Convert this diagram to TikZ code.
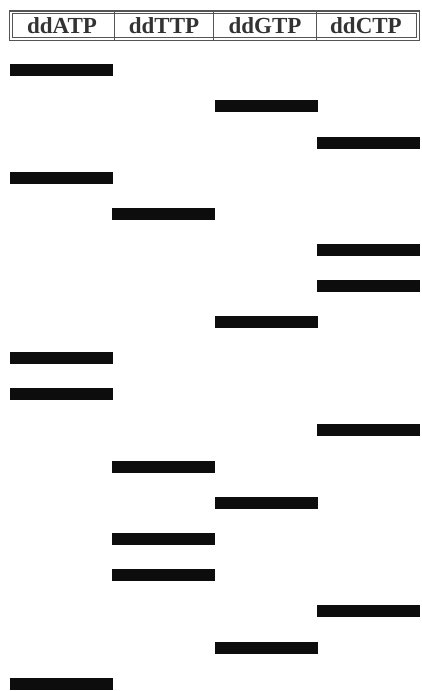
\documentclass[tikz,border=0pt]{standalone}
\usepackage{fontspec}
\setmainfont{Liberation Serif}
\definecolor{hdr}{HTML}{333333}
\definecolor{frame}{HTML}{555555}
\begin{document}
\begin{tikzpicture}[x=1pt,y=-1pt,
  band/.style={fill=black!95,draw=none,inner sep=0pt,minimum width=103pt,minimum height=11.5pt},
  lane/.style={font=\bfseries\fontsize{23}{24}\selectfont,text=hdr,inner sep=0pt,anchor=center}]
\useasboundingbox[fill=white] (0,0) rectangle (421,691);
% header
\draw[frame,line width=1.1pt] (9.5,11) rectangle (419.5,40.5);
\draw[frame,line width=0.8pt] (12.5,13.8) rectangle (416.5,37.8);
\foreach \x in {114,213.5,316}{\draw[frame,line width=1pt] (\x,11) -- (\x,40.5);}
\node[lane] (hA) at (62,26) {ddATP};
\node[lane] (hT) at (164,26) {ddTTP};
\node[lane] (hG) at (265,26) {ddGTP};
\node[lane] (hC) at (366,26) {ddCTP};
% bands
\def\xA{61.5}\def\xT{163.5}\def\xG{266}\def\xC{368}
\node[band] (b1) at (\xA,70) {};
\node[band] (b2) at (\xG,106) {};
\node[band] (b3) at (\xC,143) {};
\node[band] (b4) at (\xA,178) {};
\node[band] (b5) at (\xT,214) {};
\node[band] (b6) at (\xC,250) {};
\node[band] (b7) at (\xC,286) {};
\node[band] (b8) at (\xG,322) {};
\node[band] (b9) at (\xA,358) {};
\node[band] (b10) at (\xA,394) {};
\node[band] (b11) at (\xC,430) {};
\node[band] (b12) at (\xT,467) {};
\node[band] (b13) at (\xG,503) {};
\node[band] (b14) at (\xT,539) {};
\node[band] (b15) at (\xT,575) {};
\node[band] (b16) at (\xC,611) {};
\node[band] (b17) at (\xG,648) {};
\node[band] (b18) at (\xA,684) {};
\end{tikzpicture}
\end{document}
